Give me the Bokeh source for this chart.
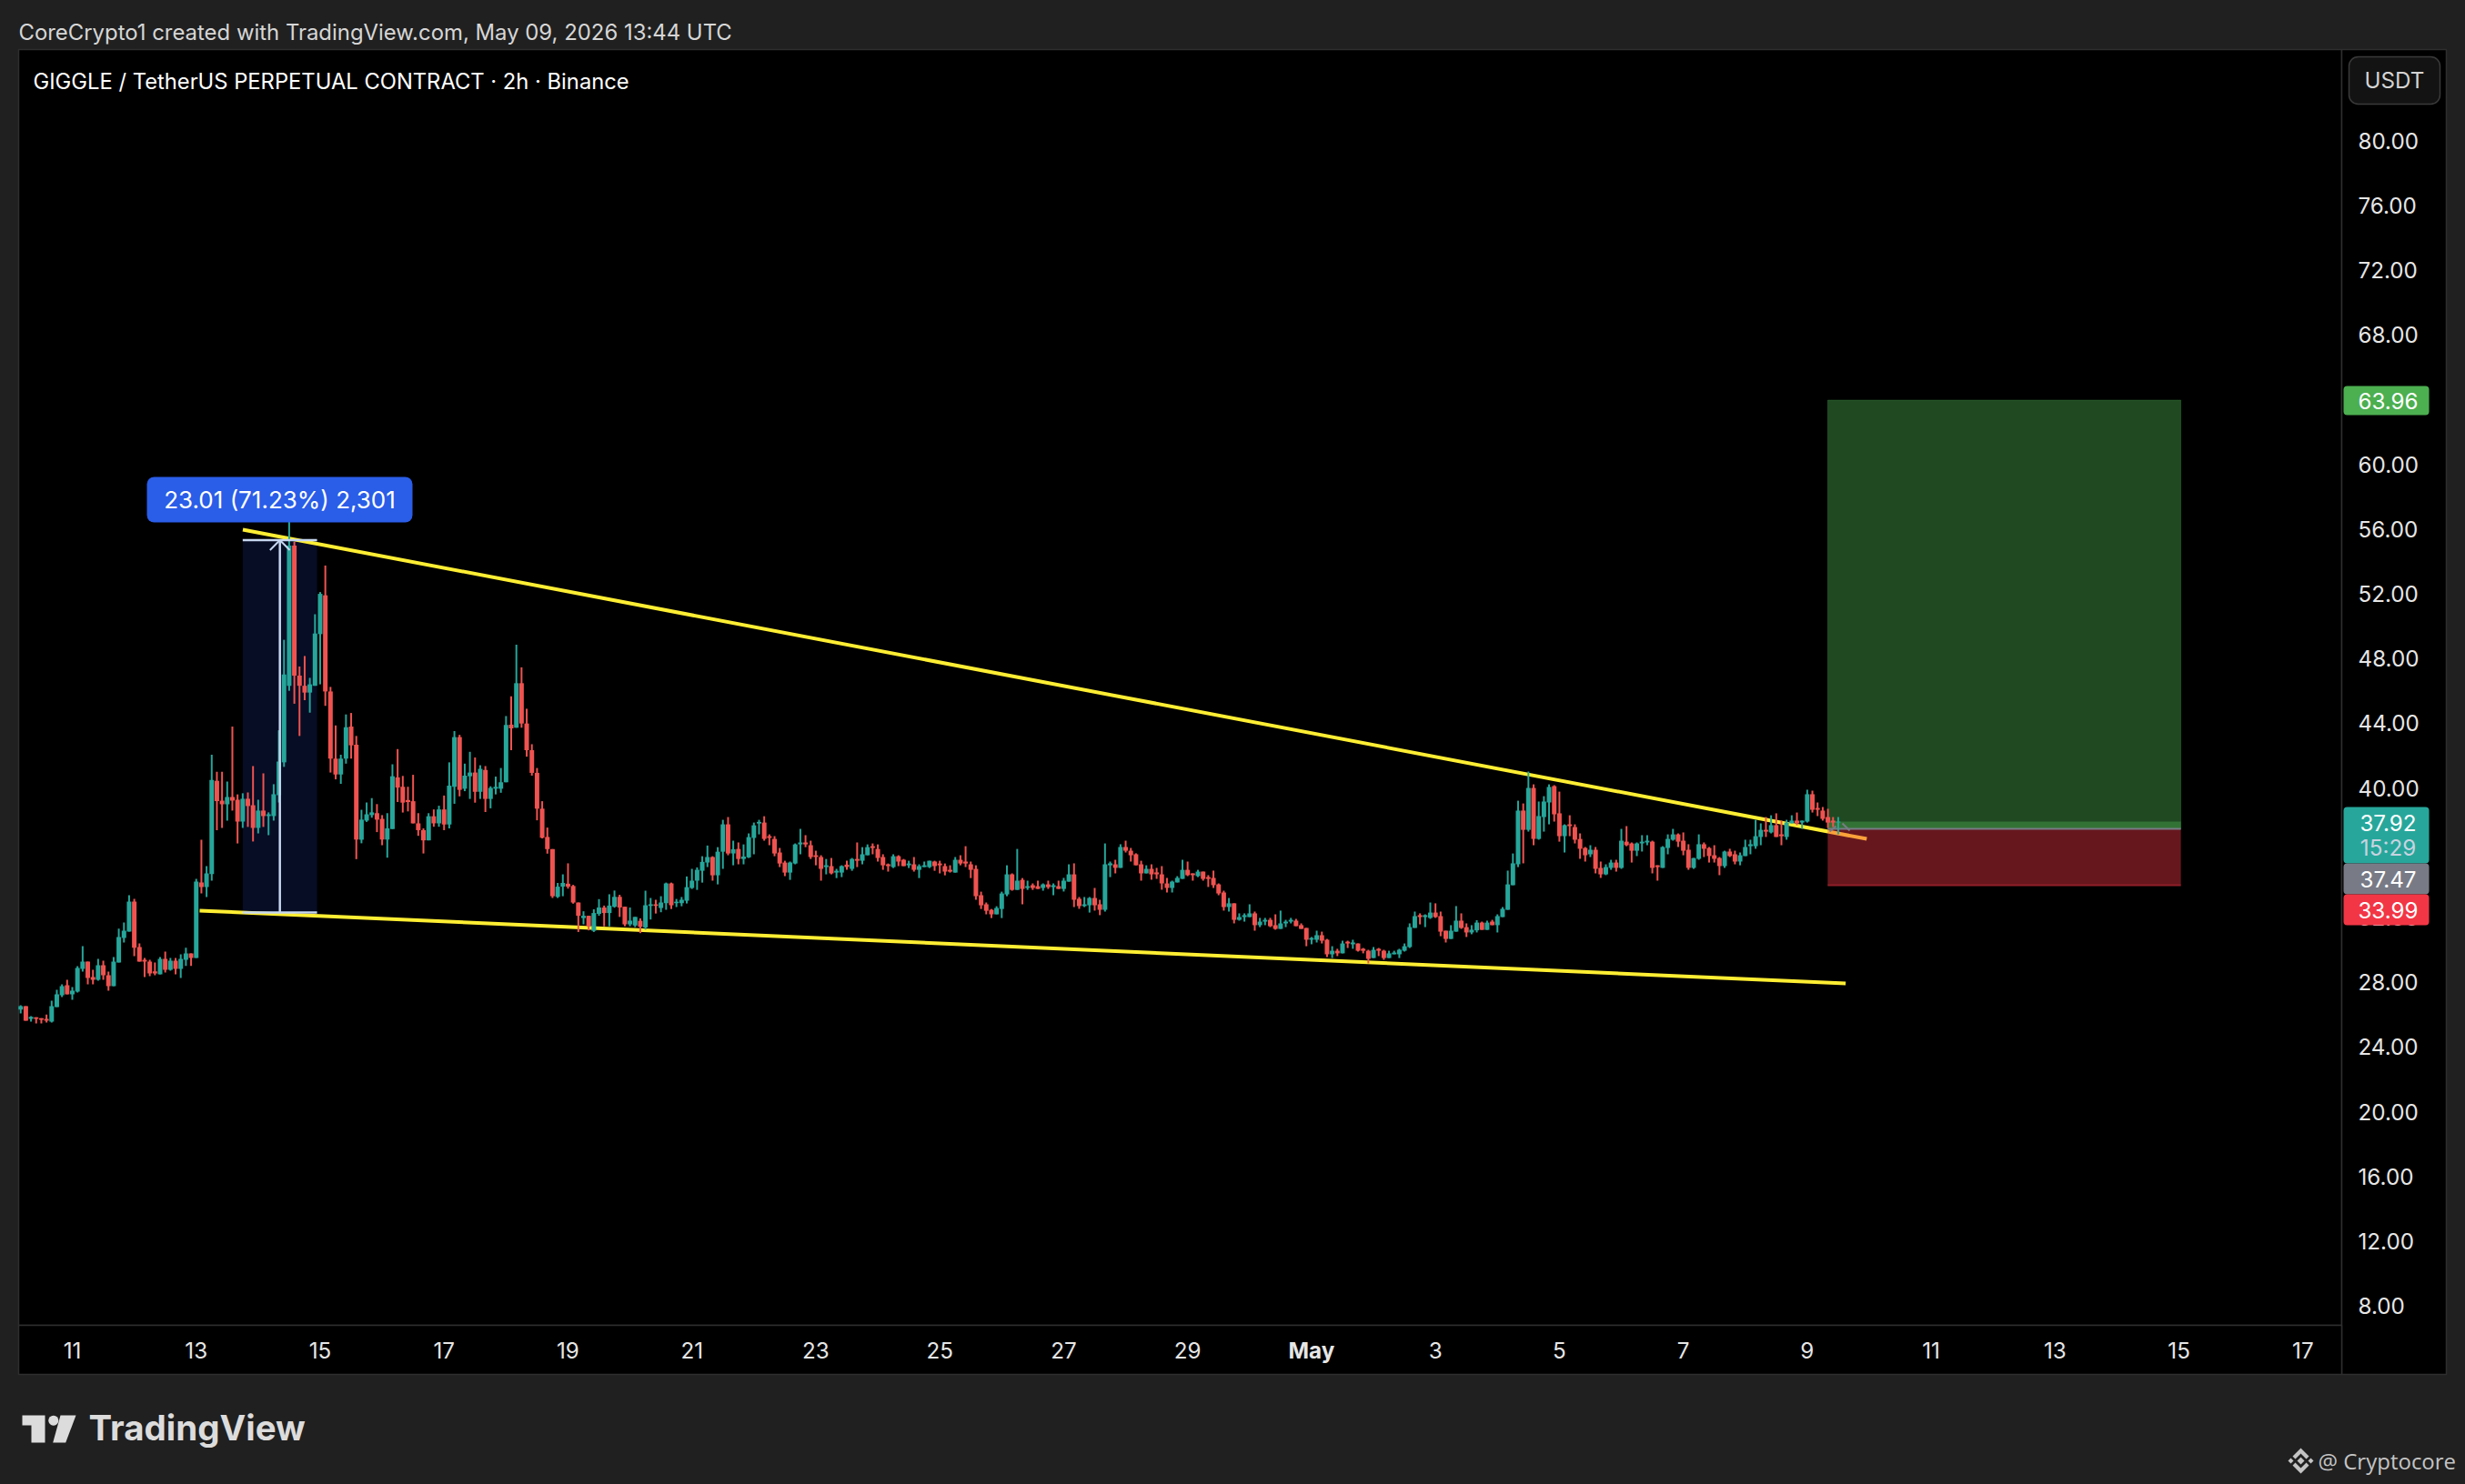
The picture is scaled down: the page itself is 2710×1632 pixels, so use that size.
import numpy as np
from bokeh.plotting import figure
from bokeh.embed import file_html
from bokeh.resources import INLINE
from bokeh.models import (BoxAnnotation, Label, PolyAnnotation, Range1d, FixedTicker,
                          NumeralTickFormatter)

opens = [26.30,26.52,25.73,25.83,25.77,25.73,25.56,26.46,27.19,27.81,
 27.25,27.42,28.82,29.27,28.32,28.15,29.05,28.43,27.75,29.22,
 30.73,31.13,32.98,30.17,29.38,29.27,28.66,28.49,29.44,28.77,
 29.33,28.82,29.38,29.78,29.50,34.16,33.88,34.67,40.44,39.22,
 38.99,39.44,39.27,37.92,39.33,38.93,37.53,38.60,38.26,38.26,
 39.55,41.58,46.31,54.97,46.94,46.31,45.89,46.31,49.5,51.9,
 45.96,41.81,40.83,41.81,43.79,42.67,36.8,37.98,38.32,38.44,
 38.09,36.81,37.46,40.65,40.07,39.25,39.18,37.81,37.39,36.76,
 38.25,37.81,38.67,37.74,40.07,43.14,39.95,40.72,40.95,39.76,
 41.11,39.32,39.95,39.95,40.35,43.91,43.72,46.47,43.98,42.33,
 40.93,38.72,36.97,36.22,33.27,33.9,34.08,33.94,32.92,31.96,
 32.1,31.17,32.22,32.61,32.27,32.66,33.27,32.66,31.57,31.5,
 31.79,31.38,32.71,32.81,32.58,32.88,34.1,32.88,32.88,33.03,
 33.82,34.27,34.88,35.39,35.73,34.6,36.06,37.75,35.95,36.23,
 35.61,35.71,36.91,37.8,37.86,37.02,36.85,36.01,35.39,34.77,
 35.33,36.51,36.63,36.46,35.84,35.73,35.11,35.17,34.77,34.77,
 35.26,35.0,35.61,35.5,35.84,36.4,36.23,35.73,35.28,35.11,
 35.78,35.56,35.22,35.28,34.94,35.11,35.11,35.45,35.33,35.17,
 34.94,34.77,35.56,35.45,35.28,35.0,33.37,32.81,32.47,32.19,
 32.52,33.42,34.66,33.7,34.32,33.82,33.99,33.93,33.82,34.04,
 33.87,33.93,33.76,34.21,34.66,33.15,32.7,32.75,33.2,32.81,
 32.47,35.22,35.28,35.06,36.35,36.12,35.9,35.28,34.72,35.0,
 34.78,34.66,34.1,33.82,34.16,34.38,34.94,34.72,34.55,34.83,
 34.49,34.44,34.04,33.54,32.64,32.87,31.85,32.02,32.02,32.25,
 31.52,31.74,31.85,31.52,31.29,31.63,31.74,31.8,31.52,31.35,
 30.62,30.62,30.9,30.62,29.72,29.94,29.78,30.5,30.34,30.39,
 30.06,29.94,29.49,30.06,29.94,29.49,29.72,29.72,29.94,30.17,
 31.35,32.14,32.02,31.97,32.3,32.08,31.18,30.67,31.12,31.8,
 31.4,31.07,31.2,31.68,31.23,31.74,31.52,32.02,32.47,33.99,
 35.28,38.6,37.41,40.0,36.85,38.2,39.1,40.11,38.43,37.02,
 37.75,37.58,36.85,36.29,35.9,36.18,35.06,34.66,35.06,35.39,
 35.06,36.68,36.57,36.12,36.57,36.63,36.68,35.22,35.06,36.29,
 36.8,37.13,36.74,36.18,35.06,35.62,36.52,36.29,35.84,35.67,
 35.17,36.07,35.9,35.45,35.79,36.4,36.4,36.97,37.41,37.25,
 37.7,37.13,36.97,37.81,37.98,37.86,37.92,39.61,38.76,38.6,
 38.2,37.98,37.86]
closes = [26.52,25.62,25.85,25.73,25.68,25.62,26.52,27.25,27.75,27.25,
 27.47,28.88,29.27,28.26,28.15,29.05,28.43,27.75,29.27,30.79,
 31.18,32.98,30.12,29.27,29.27,28.54,28.54,29.44,28.77,29.33,
 28.82,29.44,29.78,29.50,34.22,33.88,34.72,40.49,39.18,38.99,
 39.44,39.22,37.92,39.33,38.88,37.53,38.60,38.26,38.37,39.61,
 41.63,47.01,54.97,46.94,46.31,45.89,46.40,49.54,51.99,45.96,
 41.81,40.83,41.81,43.75,42.63,36.81,38.04,38.37,38.49,38.04,
 36.81,37.5,40.72,40.02,39.09,39.13,37.81,37.39,36.76,38.25,
 37.81,38.67,37.74,40.14,43.14,39.88,40.76,40.95,39.76,41.18,
 39.32,40.0,40.07,40.35,43.89,43.68,46.47,43.98,42.33,40.93,
 38.72,36.92,36.22,33.31,33.9,34.13,33.9,32.92,32.1,32.1,
 31.45,32.27,32.61,32.27,32.73,33.27,32.61,31.57,31.8,32.03,
 31.42,32.75,32.81,32.71,32.92,34.1,32.75,32.97,33.09,33.87,
 34.27,34.94,35.43,35.73,34.6,36.06,37.75,35.95,36.21,35.61,
 35.76,36.96,37.69,37.9,36.85,36.91,35.95,35.33,34.77,35.39,
 36.51,36.63,36.51,35.73,35.73,35.0,35.22,34.72,34.88,35.17,
 35.11,35.61,35.5,35.9,36.34,36.29,35.67,35.22,35.17,35.78,
 35.45,35.17,35.33,34.94,35.17,35.22,35.5,35.17,35.22,34.83,
 34.83,35.56,35.33,35.33,34.94,33.31,32.75,32.41,32.19,32.58,
 33.48,34.66,33.7,34.27,33.76,33.93,33.82,33.76,34.04,33.87,
 33.99,33.76,34.27,34.66,33.09,32.7,32.81,33.2,32.75,32.47,
 35.28,35.34,35.06,36.35,36.12,35.84,35.22,34.72,35.0,34.66,
 34.66,34.1,33.82,34.21,34.44,34.94,34.61,34.61,34.83,34.38,
 34.38,33.99,33.48,32.64,32.87,31.85,32.02,32.14,32.25,31.52,
 31.74,31.85,31.46,31.29,31.63,31.74,31.85,31.46,31.29,30.62,
 30.73,30.9,30.56,29.72,29.94,29.78,30.39,30.39,30.45,29.94,
 29.94,29.44,30.0,29.94,29.49,29.78,29.83,30.0,30.22,31.4,
 32.08,32.02,32.14,32.3,32.02,31.12,30.67,31.18,31.8,31.35,
 31.07,31.24,31.68,31.23,31.68,31.52,32.08,32.53,34.04,35.34,
 38.6,37.41,40.0,36.85,38.26,39.16,40.06,38.37,37.02,37.7,
 37.64,36.8,36.24,35.84,36.18,35.0,34.66,35.11,35.39,35.06,
 36.74,36.46,36.12,36.57,36.68,36.74,35.06,35.11,36.35,36.85,
 37.13,36.68,36.12,35.06,35.67,36.52,36.24,35.79,35.62,35.17,
 36.07,35.79,35.45,35.84,36.35,36.52,37.02,37.41,37.3,37.7,
 36.97,37.02,37.86,37.98,37.81,37.98,39.61,38.65,38.65,38.09,
 37.86,37.86,37.92]
highs = [26.58,26.52,25.90,25.83,25.77,26.0,26.86,27.53,27.87,28.15,
 27.70,28.99,30.23,29.27,28.77,29.44,29.33,28.65,29.55,31.30,
 31.69,33.37,33.15,30.40,29.50,29.38,29.22,29.55,29.89,29.50,
 29.50,29.72,30.12,29.78,34.38,36.8,35.17,42.05,41.0,41.0,
 40.4,43.79,39.6,39.67,39.72,41.35,39.27,40.9,38.49,40.23,
 43.56,49.15,56.83,55.2,47.5,48.15,46.8,50.73,52.1,53.74,
 46.24,43.86,42.05,44.54,44.63,43.21,38.65,39.10,39.37,39.0,
 38.32,38.44,41.46,42.4,40.74,40.07,40.81,38.44,37.5,38.44,
 38.67,38.9,39.53,41.58,43.51,43.28,41.5,42.23,41.88,41.4,
 41.35,40.1,40.7,41.23,44.44,45.66,48.85,47.45,44.89,42.7,
 41.23,39.18,37.55,36.22,34.13,34.66,35.34,34.01,32.92,32.38,
 32.1,32.5,33.13,32.73,33.43,33.66,33.4,32.66,32.61,32.03,
 31.94,33.65,33.2,33.09,33.31,34.15,34.15,33.14,33.26,34.53,
 35.0,35.09,35.78,36.44,35.78,36.34,38.03,38.2,36.74,36.63,
 36.51,37.19,37.86,38.03,38.25,37.13,37.02,36.29,35.5,35.45,
 36.57,37.47,37.08,36.74,36.12,35.84,35.61,35.67,35.0,35.22,
 35.5,35.67,36.63,36.34,36.51,36.57,36.51,35.9,35.33,35.9,
 35.84,35.61,35.5,35.73,35.28,35.45,35.5,35.5,35.5,35.33,
 35.22,35.73,35.84,36.4,35.45,35.22,33.59,32.92,32.52,32.69,
 33.59,35.22,34.72,36.23,34.43,34.27,34.1,34.27,34.1,34.27,
 34.1,34.27,34.44,35.28,35.34,33.26,33.26,33.26,33.82,33.09,
 36.57,35.45,35.56,36.52,36.74,36.29,35.96,35.5,35.22,35.28,
 35.06,35.17,34.44,34.27,34.55,35.56,35.45,34.72,34.94,34.83,
 34.61,34.89,34.1,33.65,33.2,32.87,32.25,32.25,32.81,32.36,
 31.97,31.97,31.97,32.19,32.42,31.85,31.97,31.91,31.63,31.35,
 30.79,31.18,31.12,30.67,30.22,30.06,30.56,30.56,30.62,30.39,
 30.11,30.0,30.17,30.11,30.0,29.94,29.94,30.06,30.39,31.63,
 32.36,32.25,32.19,32.92,32.87,32.36,31.18,31.52,32.7,32.25,
 31.63,31.52,31.83,31.74,31.8,31.85,32.19,32.64,34.89,35.95,
 39.21,39.04,41.01,40.22,39.16,39.49,40.22,40.17,39.77,37.75,
 38.31,37.75,37.19,36.35,36.46,36.35,35.45,35.28,35.56,35.56,
 37.47,37.64,36.63,36.63,37.08,37.08,36.74,35.22,36.4,37.13,
 37.47,37.19,37.25,36.52,35.67,37.13,36.63,36.35,36.46,35.73,
 36.12,36.24,36.12,36.01,36.8,36.8,38.03,37.81,38.2,38.31,
 38.43,37.98,38.03,38.31,38.48,37.98,39.89,39.83,39.1,38.82,
 38.71,38.2,38.2]
lows = [26.07,25.62,25.56,25.45,25.45,25.51,25.51,26.46,27.08,27.25,
 26.91,27.36,28.65,27.87,27.87,28.09,28.15,27.47,27.75,29.22,
 30.45,31.13,29.61,29.27,28.32,28.37,28.43,28.49,28.60,28.71,
 28.49,28.26,29.0,29.0,29.50,33.49,33.26,34.27,37.39,37.53,
 37.98,38.6,36.57,37.53,37.59,36.69,37.19,37.59,37.08,37.98,
 39.1,41.3,46.0,45.2,43.21,45.42,44.65,46.31,46.4,45.07,
 40.95,40.53,40.25,41.5,41.81,35.6,36.58,37.9,38.16,37.27,
 36.46,35.69,37.46,39.13,38.48,38.55,37.81,37.04,35.95,36.76,
 37.6,37.6,37.39,37.5,39.02,39.48,39.8,39.32,39.09,39.32,
 38.51,38.74,39.6,39.7,40.35,42.33,43.72,43.72,41.93,40.76,
 38.0,36.88,35.94,33.2,33.2,33.31,33.78,32.85,31.1,31.57,
 31.2,31.1,32.1,31.45,31.45,32.6,32.03,31.45,31.45,31.4,
 31.03,31.25,31.87,32.24,32.32,32.47,32.52,32.64,32.69,32.86,
 33.76,33.7,34.15,35.11,34.27,34.04,35.0,35.84,35.22,35.28,
 35.28,35.67,35.9,37.13,36.74,36.46,35.78,35.11,34.55,34.32,
 35.28,35.9,36.34,35.61,35.22,34.27,34.66,34.66,34.43,34.49,
 34.94,34.88,35.11,35.28,35.84,35.9,35.45,34.94,34.83,35.05,
 35.17,35.17,35.05,34.83,34.43,35.11,35.05,34.88,34.72,34.6,
 34.77,34.77,35.22,35.11,34.43,33.09,32.52,32.19,31.96,32.19,
 31.96,33.31,33.65,33.7,32.81,33.7,33.7,33.76,33.65,33.76,
 33.37,33.76,33.6,34.21,32.64,32.53,32.64,32.3,32.42,32.14,
 32.36,34.49,34.72,35.06,36.01,35.45,35.22,34.27,34.72,34.33,
 34.38,33.71,33.54,33.54,34.16,34.38,34.55,34.27,34.49,34.27,
 33.88,33.82,33.37,32.42,32.36,31.63,31.8,31.74,32.02,31.18,
 31.4,31.52,31.4,31.24,31.29,31.4,31.63,31.46,31.29,30.22,
 30.34,30.45,30.39,29.55,29.49,29.61,29.78,30.11,30.06,29.89,
 29.78,29.16,29.49,29.61,29.38,29.49,29.72,29.49,29.89,30.11,
 31.35,31.57,31.4,31.91,31.97,30.84,30.45,30.67,31.12,31.29,
 30.79,30.96,31.07,31.23,31.23,31.52,31.07,32.02,32.47,33.99,
 35.11,35.34,37.3,36.46,36.8,37.3,37.75,37.92,36.68,36.01,
 37.02,36.57,35.62,35.45,35.73,34.72,34.44,34.61,34.94,34.83,
 35.0,36.4,35.39,35.79,36.07,36.46,34.72,34.27,35.06,35.9,
 36.74,36.35,35.84,34.94,35.0,35.56,35.73,35.39,35.39,34.61,
 35.06,35.73,35.28,35.22,35.79,35.9,36.24,36.46,36.97,37.19,
 36.97,36.46,36.8,37.81,37.7,37.47,37.86,38.48,38.26,37.98,
 37.53,37.58,37.13]

price_ticks = list(range(8, 84, 4))
day_ticks = list(range(0, 38, 2))       # days since Apr 11
day_labels = ["11","13","15","17","19","21","23","25","27","29","","3","5","7","9","11","13","15","17"]

upper_days, upper_prices = [2.752, 28.96], [55.96, 36.85]
lower_days, lower_prices = [2.055, 28.62], [32.42, 27.92]
measure_days, measure_low, measure_high = [2.75, 3.95], 32.30, 55.31
take_profit, entry, stop_loss, last_price = 63.96, 37.47, 33.99, 37.92
position_days = [28.33, 34.03]

BG, BLACK, EDGE = "#202020", "#000000", "#2e2e2e"
TEAL, RED, YELLOW = "#26a69a", "#ef5350", "#ffee33"
FONT = "Inter"

def X(px): return (px - 79) / 68.12
def Y(py): return 80 - (py - 154) / 17.8

# The frame fills the page; both axes are pinned at the pane's edges so that
# the tags and the page furniture can be drawn round them.
p = figure(width=2710, height=1632, output_backend="svg", toolbar_location=None,
           x_range=Range1d(X(0), X(2710)), y_range=Range1d(Y(1632), Y(0)),
           y_axis_location="right",
           min_border_left=0, min_border_right=0, min_border_top=0, min_border_bottom=0)
p.background_fill_color = BG
p.border_fill_color = BG
p.outline_line_color = None
p.grid.visible = False

ax = p.xaxis[0]
ax.ticker = FixedTicker(ticks=day_ticks)
ax.major_label_overrides = {d: s for d, s in zip(day_ticks, day_labels)}
ax.fixed_location = Y(1457)
ay = p.yaxis[0]
ay.ticker = FixedTicker(ticks=price_ticks)
ay.formatter = NumeralTickFormatter(format="0.00")
ay.fixed_location = X(2574)
for a, st in ((ax, 12), (ay, 12)):
    a.axis_line_color = None
    a.major_tick_line_color = None
    a.minor_tick_line_color = None
    a.major_label_text_color = "#e6e6e6"
    a.major_label_text_font = FONT
    a.major_label_text_font_size = "24.2px"
    a.major_label_standoff = st

def tag(l, r, t, b, color, radius=4, line=None, alpha=1, level="annotation"):
    p.add_layout(BoxAnnotation(left=l, right=r, top=t, bottom=b, left_units="canvas", right_units="canvas",
                               top_units="canvas", bottom_units="canvas", fill_color=color, fill_alpha=alpha,
                               line_color=line, line_alpha=1, line_width=1.5, border_radius=radius, level=level))

def text(px, py, s, color="#ffffff", size="24.2px", align="left", font=FONT, style="normal"):
    p.add_layout(Label(x=px, y=py, x_units="canvas", y_units="canvas", text=s, text_color=color, text_font_size=size,
                       text_align=align, text_baseline="middle", text_font=font, text_font_style=style, level="annotation"))

def poly(pts, color="#dcdcdc"):
    p.add_layout(PolyAnnotation(xs=[a for a, _ in pts], ys=[b for _, b in pts], xs_units="canvas", ys_units="canvas",
                                fill_color=color, fill_alpha=1, line_color=None, level="annotation"))

# black panes under everything
for l_, r_, t_, b_ in [(20, 2574, 54, 1457), (2574, 2689, 54, 1511), (20, 2574, 1457, 1511)]:
    tag(l_, r_, t_, b_, BLACK, radius=0, line=EDGE, level="underlay")

# measure tool background
p.quad(left=measure_days[0], right=measure_days[1], bottom=measure_low, top=measure_high,
       fill_color="#060d24", line_color=None)

# trend lines sit under the translucent position boxes
p.line(upper_days, upper_prices, line_color=YELLOW, line_width=4)
p.line(lower_days, lower_prices, line_color=YELLOW, line_width=4)

# long position tool
p.quad(left=position_days[0], right=position_days[1], bottom=entry, top=take_profit,
       fill_color="#4caf50", fill_alpha=0.42, line_color="#4caf50", line_alpha=0.25)
p.quad(left=position_days[0], right=position_days[1], bottom=stop_loss, top=entry,
       fill_color="#f23645", fill_alpha=0.42, line_color=None)
p.quad(left=position_days[0], right=position_days[1], bottom=entry, top=last_price,
       fill_color="#4caf50", fill_alpha=0.42, line_color=None)
p.line(position_days, [stop_loss, stop_loss], line_color="#8f1f28", line_width=2)
p.line(position_days, [entry, entry], line_color="#787b86", line_width=2)

# candles
o, c, h, l = map(np.array, (opens, closes, highs, lows))
days = (np.arange(len(o)) - 10) / 12
up = c >= o
for mask, col in ((up, TEAL), (~up, RED)):
    p.segment(days[mask], l[mask], days[mask], h[mask], line_color=col, line_width=2)
    p.vbar(x=days[mask], width=0.88 / 12, bottom=np.minimum(o, c)[mask], top=np.maximum(o, c)[mask],
           fill_color=col, line_color=None)

# measure tool lines
mid = sum(measure_days) / 2
MC = "#c6d6f0"
for y_ in (measure_low, measure_high):
    p.line(measure_days, [y_, y_], line_color=MC, line_width=2.5)
p.line([mid, mid], [measure_low, measure_high], line_color=MC, line_width=2.5)
p.line([mid - 0.16, mid, mid + 0.16], [measure_high - 0.62, measure_high, measure_high - 0.62],
       line_color=MC, line_width=2)

# entry chevrons
p.line([X(2011), X(2018)], [Y(914), Y(908)], line_color="#787b86", line_width=2)
p.line([X(2025), X(2033)], [Y(905), Y(913)], line_color="#787b86", line_width=2)

# measure label
tag(161, 453, 524, 574, "#2a5de8", radius=8)
text(307, 549, "23.01 (71.23%) 2,301", size="26px", align="center")

# price tags
tag(2576, 2670, 424, 456, "#4caf50")
text(2625, 440, "63.96", align="center")
tag(2576, 2670, 887, 949, "#27a79b")
text(2625, 904, "37.92", align="center")
text(2625, 932, "15:29", color="#c8d3e0", align="center")
tag(2576, 2670, 949, 983, "#787b86")
text(2625, 966, "37.47", align="center")
tag(2576, 2670, 983, 1017, "#f23645")
text(2625, 1000, "33.99", align="center")

# currency button
tag(2582, 2682, 62, 114, "#131313", radius=10, line="#3a3a3a")
text(2632, 88, "USDT", color="#d4d4d4", align="center")

# header and footer texts
text(20, 35, "CoreCrypto1 created with TradingView.com, May 09, 2026 13:44 UTC", color="#d6d6d6", size="23.9px")
text(36, 89, "GIGGLE / TetherUS PERPETUAL CONTRACT · 2h · Binance", size="23.75px")
text(79 + 68.12 * 20, 1485, "May", color="#e6e6e6", align="center", style="bold")
text(97, 1569, "TradingView", color="#dcdcdc", size="38.5px", style="bold")
text(2548, 1606, "@ Cryptocore", color="#c4c4c4", size="24px", font="Open Sans")

# TradingView mark
poly([(24, 1556), (49, 1556), (49, 1586), (34, 1586), (34, 1567), (24, 1567)])
poly([(66, 1556), (83, 1556), (71.7, 1586), (57.7, 1586)])
ang = np.linspace(0, 2 * np.pi, 24, endpoint=False)
poly([(58.3 + 5.5 * np.cos(a), 1561.7 + 5.5 * np.sin(a)) for a in ang])

# Binance mark
cx, cy, gc = 2529, 1606, "#c4c4c4"
poly([(cx, cy - 4), (cx + 4, cy), (cx, cy + 4), (cx - 4, cy)], gc)
for dx in (-11, 11):
    poly([(cx + dx, cy - 3), (cx + dx + 3, cy), (cx + dx, cy + 3), (cx + dx - 3, cy)], gc)
for s_ in (-1, 1):
    poly([(cx, cy + s_ * 14), (cx + 9, cy + s_ * 5), (cx + 6, cy + s_ * 2), (cx, cy + s_ * 8),
          (cx - 6, cy + s_ * 2), (cx - 9, cy + s_ * 5)], gc)

html = file_html(p, INLINE)
html = html.replace("</head>", "<style>html,body{margin:0;background:#202020;overflow:hidden}</style></head>")
open("out.html", "w").write(html)
